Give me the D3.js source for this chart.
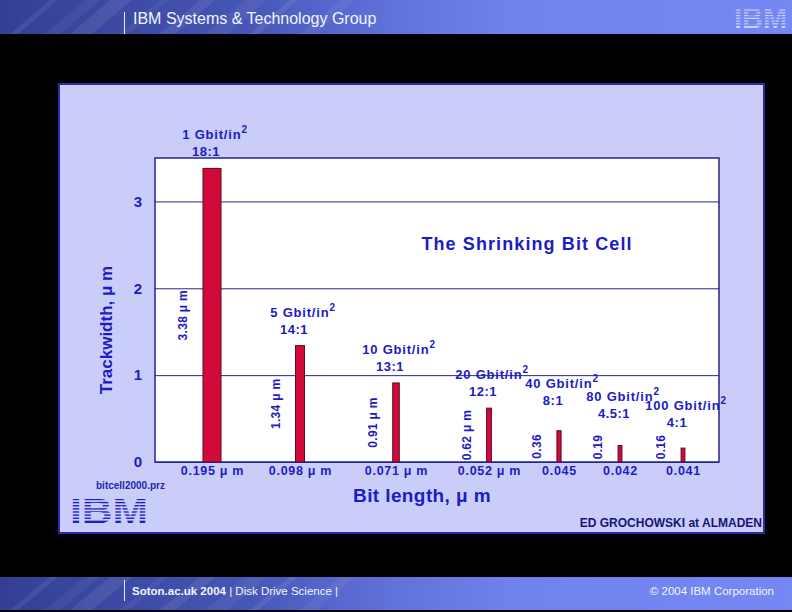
<!DOCTYPE html>
<html><head><meta charset="utf-8">
<script src="https://cdn.jsdelivr.net/npm/d3@7"></script>
<style>html,body{margin:0;padding:0;background:#000;} svg{display:block;}</style>
</head><body><svg id="c" width="792" height="612"></svg>
<script>
// ---- data ----
const densities = ["1","5","10","20","40","80","100"];
const aspectRatios = ["18:1","14:1","13:1","12:1","8:1","4.5:1","4:1"];
const trackwidths = [3.38,1.34,0.91,0.62,0.36,0.19,0.16];
const bitLengths = [0.195,0.098,0.071,0.052,0.045,0.042,0.041];
const trackLabels = ["3.38 μ m","1.34 μ m","0.91 μ m","0.62 μ m","0.36","0.19","0.16"];
const bitLabels = ["0.195 μ m","0.098 μ m","0.071 μ m","0.052 μ m","0.045","0.042","0.041"];
const yTicks = [0,1,2,3];

// ---- layout ----
const W = 792, H = 612;
const svg = d3.select("#c");
const defs = svg.append("defs");
const BLUE = "#1c1cc4";
const FONT = "'Liberation Sans', Arial, Helvetica, sans-serif";

svg.append("rect").attr("width", W).attr("height", H).attr("fill", "#000");

// header / footer gradient bands
const g1 = defs.append("linearGradient").attr("id", "band").attr("x1", 0).attr("x2", 1).attr("y1", 0).attr("y2", 0);
[[0, "#323f94"], [0.3, "#4555b4"], [0.5, "#6272dc"], [0.65, "#7082ee"], [1, "#7587f2"]]
  .forEach(([o, c]) => g1.append("stop").attr("offset", o).attr("stop-color", c));

function band(y0, h) {
  const g = svg.append("g");
  g.append("rect").attr("x", 0).attr("y", y0).attr("width", W).attr("height", h).attr("fill", "url(#band)");
  const clipId = "clip" + y0;
  defs.append("clipPath").attr("id", clipId).append("rect").attr("x", 0).attr("y", y0).attr("width", W).attr("height", h);
  const st = g.append("g").attr("clip-path", `url(#${clipId})`);
  [10, 45, 70, 120, 160, 205, 250, 300].forEach((sx, i) => {
    const w = 8 + (i % 3) * 7;
    st.append("polygon")
      .attr("points", `${sx},${y0 + h} ${sx + w},${y0 + h} ${sx + w + 40},${y0} ${sx + 40},${y0}`)
      .attr("fill", "#fff").attr("opacity", i % 2 ? 0.05 : 0.08);
  });
  return g;
}
band(0, 34);
band(577, 33);

// header text
svg.append("line").attr("x1", 124.5).attr("x2", 124.5).attr("y1", 12).attr("y2", 34).attr("stroke", "#e8ecff").attr("stroke-width", 1);
svg.append("text").attr("x", 133).attr("y", 24).attr("fill", "#f2f4ff")
  .attr("font-family", FONT).attr("font-size", 16).text("IBM Systems & Technology Group");

// striped IBM logo helper
function logo(x, y, w, h, fill, gapFill) {
  const g = svg.append("g");
  g.append("text").attr("x", x).attr("y", y + h).attr("fill", fill)
    .attr("font-family", FONT).attr("font-weight", "bold").attr("font-size", h * 1.38)
    .attr("textLength", w).attr("lengthAdjust", "spacingAndGlyphs").text("IBM");
  const n = 8, pitch = h / n;
  for (let k = 1; k < n; k++) {
    g.append("rect").attr("x", x - 2).attr("y", y + k * pitch - pitch * 0.3)
      .attr("width", w + 4).attr("height", pitch * 0.55).attr("fill", gapFill);
  }
}
logo(734, 6, 53, 22, "#c9d0fb", "#7587f2");

// footer text
svg.append("line").attr("x1", 124.5).attr("x2", 124.5).attr("y1", 580).attr("y2", 601).attr("stroke", "#e8ecff");
const ft = svg.append("text").attr("x", 132).attr("y", 595).attr("fill", "#f2f4ff")
  .attr("font-family", "'Liberation Sans Narrow', " + FONT).attr("font-size", 11.5);
ft.append("tspan").attr("font-weight", "bold").text("Soton.ac.uk 2004");
ft.append("tspan").text("  |  Disk Drive Science  |");
svg.append("text").attr("x", 774).attr("y", 595).attr("text-anchor", "end").attr("fill", "#f2f4ff")
  .attr("font-family", "'Liberation Sans Narrow', " + FONT).attr("font-size", 11.5).text("© 2004 IBM Corporation");

// lavender picture panel
svg.append("rect").attr("x", 59).attr("y", 84).attr("width", 705).attr("height", 449)
  .attr("fill", "#cbcdf9").attr("stroke", "#2a2aa8").attr("stroke-width", 2);

// ---- chart ----
const px0 = 155, px1 = 719, py0 = 158, py1 = 462;
const y = d3.scaleLinear().domain([0, 3.5]).range([py1, py0]);
const x = d3.scaleLinear().domain(d3.range(densities.length)).range([212, 300, 396, 489, 559, 620, 683]);
const bw = d3.scaleLinear().domain([0, bitLengths[0]]).range([0, 18]);

svg.append("rect").attr("x", px0).attr("y", py0).attr("width", px1 - px0).attr("height", py1 - py0)
  .attr("fill", "#fff");

// y axis with gridlines
const ya = svg.append("g").attr("transform", `translate(${px0},0)`)
  .call(d3.axisLeft(y).tickValues(yTicks).tickFormat(d3.format("d")).tickSize(-(px1 - px0)).tickPadding(13));
ya.select(".domain").remove();
ya.selectAll(".tick line").attr("stroke", "#24248e").attr("stroke-width", 1);
ya.selectAll(".tick text").attr("fill", BLUE).attr("font-family", FONT).attr("font-weight", "bold").attr("font-size", 15);

// plot border
svg.append("rect").attr("x", px0).attr("y", py0).attr("width", px1 - px0).attr("height", py1 - py0)
  .attr("fill", "none").attr("stroke", "#24248e").attr("stroke-width", 1.5);

// x axis labels
const xa = svg.append("g").attr("transform", `translate(0,${py1})`)
  .call(d3.axisBottom(x).tickValues(d3.range(densities.length)).tickFormat(i => bitLabels[i]).tickSize(0).tickPadding(4));
xa.select(".domain").remove();
xa.selectAll(".tick text").attr("fill", BLUE).attr("font-family", FONT).attr("font-weight", "bold")
  .attr("font-size", 12.5).attr("letter-spacing", 0.7);

// bars
svg.append("g").selectAll("rect").data(trackwidths).join("rect")
  .attr("x", (d, i) => x(i) - bw(bitLengths[i]) / 2)
  .attr("y", d => y(d))
  .attr("width", (d, i) => bw(bitLengths[i]))
  .attr("height", d => y(0) - y(d))
  .attr("fill", "#d20a3a").attr("stroke", "#5c0a22").attr("stroke-width", 1);

// rotated trackwidth labels
svg.append("g").selectAll("text").data(trackwidths).join("text")
  .attr("transform", (d, i) => `translate(${x(i) - bw(bitLengths[i]) / 2 - 20},${Math.min(y(d / 2), y(0) - 15)}) rotate(-90)`)
  .attr("text-anchor", "middle").attr("dy", "0.35em")
  .attr("fill", BLUE).attr("font-family", FONT).attr("font-weight", "bold").attr("font-size", 12)
  .attr("letter-spacing", 0.3)
  .text((d, i) => trackLabels[i]);

// density + aspect ratio labels
const lab = svg.append("g").selectAll("g").data(trackwidths).join("g");
const line2 = d => y(d) - (d < 0.5 ? 27 : 12);
const l1 = lab.append("text")
  .attr("x", (d, i) => x(i) + 3).attr("y", d => line2(d) - 17)
  .attr("text-anchor", "middle").attr("fill", BLUE).attr("font-family", FONT)
  .attr("font-weight", "bold").attr("font-size", 13).attr("letter-spacing", 0.8);
l1.append("tspan").attr("class", "main").text((d, i) => densities[i] + " Gbit/in");
l1.append("tspan").attr("class", "sup").attr("dy", -6).attr("font-size", 10).text("2");
lab.append("text")
  .attr("x", (d, i) => x(i) - 6).attr("y", d => line2(d))
  .attr("text-anchor", "middle").attr("fill", BLUE).attr("font-family", FONT)
  .attr("font-weight", "bold").attr("font-size", 13).attr("letter-spacing", 0.5)
  .text((d, i) => aspectRatios[i]);

// push a label group down when its first line runs into the previous label's superscript
const groups = lab.nodes();
for (let i = 1; i < groups.length; i++) {
  const prevSup = d3.select(groups[i - 1]).select(".sup").node().getBoundingClientRect();
  const cur = d3.select(groups[i]).select(".main").node().getBoundingClientRect();
  const overlapX = cur.left < prevSup.right && cur.right > prevSup.left;
  if (overlapX && cur.top < prevSup.bottom) {
    d3.select(groups[i]).attr("transform", `translate(0,${prevSup.bottom - cur.top + 1})`);
  }
}

// titles
svg.append("text").attr("x", 527).attr("y", 250).attr("text-anchor", "middle")
  .attr("fill", BLUE).attr("font-family", FONT).attr("font-weight", "bold").attr("font-size", 18)
  .attr("letter-spacing", 1.1)
  .text("The Shrinking Bit Cell");
svg.append("text").attr("transform", "translate(112,330) rotate(-90)").attr("text-anchor", "middle")
  .attr("fill", BLUE).attr("font-family", FONT).attr("font-weight", "bold").attr("font-size", 17)
  .text("Trackwidth, μ m");
svg.append("text").attr("x", 422).attr("y", 502).attr("text-anchor", "middle")
  .attr("fill", BLUE).attr("font-family", FONT).attr("font-weight", "bold").attr("font-size", 19).attr("letter-spacing", 0.4)
  .text("Bit length, μ m");

// panel annotations
svg.append("text").attr("x", 96).attr("y", 489).attr("fill", "#2424b0")
  .attr("font-family", FONT).attr("font-weight", "bold").attr("font-size", 10).text("bitcell2000.prz");
logo(70, 498, 78, 25, "#2020c0", "#cbcdf9");
svg.append("text").attr("x", 762).attr("y", 527).attr("text-anchor", "end").attr("fill", "#141478")
  .attr("font-family", FONT).attr("font-weight", "bold").attr("font-size", 12).text("ED GROCHOWSKI at ALMADEN");
</script></body></html>
